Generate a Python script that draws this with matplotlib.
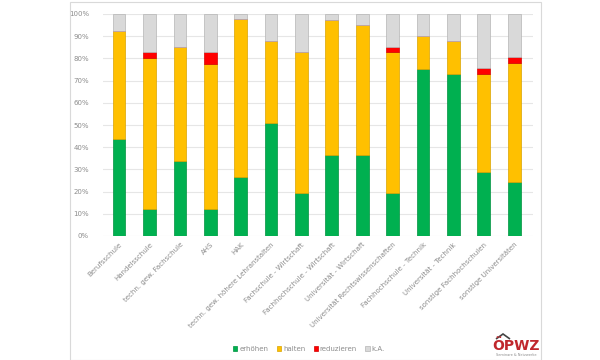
import matplotlib
matplotlib.use("Agg")
import matplotlib.pyplot as plt
from matplotlib.patches import Rectangle, Polygon
import numpy as np

categories = ["Berufsschule", "Handelsschule", "techn. gew. Fachschule", "AHS", "HAK",
              "techn. gew. höhere Lehranstalten", "Fachschule - Wirtschaft",
              "Fachhochschule - Wirtschaft", "Universität - Wirtschaft",
              "Universität Rechtswissenschaften", "Fachhochschule - Technik",
              "Universität - Technik", "sonstige Fachhochschulen", "sonstige Universitäten"]
erhoehen =   [43.6, 12.0, 33.8, 12.0, 26.6, 51.1, 19.2, 36.4, 36.4, 19.2, 75.2, 72.9, 29.0, 24.1]
halten =     [48.9, 68.2, 51.5, 65.7, 71.1, 36.6, 63.5, 60.9, 58.8, 63.5, 15.0, 14.8, 43.9, 53.8]
reduzieren = [0.0, 2.5, 0.0, 5.0, 0.0, 0.0, 0.0, 0.0, 0.0, 2.6, 0.0, 0.0, 2.7, 2.6]
ka = [100 - a - b - c for a, b, c in zip(erhoehen, halten, reduzieren)]

series = [("erhöhen", erhoehen, "#00B050", "#00913F"),
          ("halten", halten, "#FFC000", "#D9A300"),
          ("reduzieren", reduzieren, "#FF0000", "#D00000"),
          ("k.A.", ka, "#D9D9D9", "#B5B5B5")]

plt.rcParams["font.family"] = ["DejaVu Sans"]
fig = plt.figure(figsize=(6, 3.6), dpi=100)
ax = fig.add_axes([103/600, 1-236/360, 430/600, 222/360])

x = np.arange(len(categories))
bottom = np.zeros(len(categories))
handles = []
for name, vals, col, edge in series:
    h = ax.bar(x, vals, bottom=bottom, width=0.42, color=col, edgecolor=edge,
               linewidth=0.5, label=name, zorder=3)
    handles.append(h)
    bottom += np.array(vals)

ax.set_xlim(-0.53, 13.62)
ax.set_ylim(0, 100)
ax.set_yticks(np.arange(0, 101, 10))
ax.set_yticklabels([f"{v}%" for v in range(0, 101, 10)])
ax.yaxis.grid(True, color="#e6e6e6", linewidth=0.8, zorder=0)
ax.set_axisbelow(True)
for s in ax.spines.values():
    s.set_visible(False)
ax.tick_params(axis="both", length=0, colors="#8c8c8c", labelsize=5)
ax.tick_params(axis="y", pad=10)
ax.set_xticks(x)
ax.set_xticklabels(categories, rotation=45, ha="right", rotation_mode="anchor")
ax.tick_params(axis="x", pad=4)

leg = fig.legend(handles=handles, labels=[s[0] for s in series], loc="center",
                 bbox_to_anchor=(0.515, 1-349/360), ncol=4, frameon=False,
                 fontsize=5, handlelength=0.6, handleheight=0.6, handletextpad=0.3,
                 columnspacing=1.2, labelcolor="#8c8c8c")

# outer frame
fig.patches.append(Rectangle((70/600, 0), 471/600, 358/360, transform=fig.transFigure,
                             fill=False, edgecolor="#d9d9d9", linewidth=0.8))

# logo
fig.text(516/600, 1-346/360, "ÖPWZ", color="#C0272D", fontsize=10, fontweight="bold",
         ha="center", va="center")
fig.text(516/600, 1-355/360, "Seminare & Netzwerke", color="#8c8c8c", fontsize=2.5,
         ha="center", va="center")
fig.patches.append(Polygon([[496/600, 1-339/360], [503/600, 1-334/360], [510/600, 1-339/360]],
                           closed=False, fill=False, edgecolor="#444444", linewidth=1.2,
                           transform=fig.transFigure))

fig.savefig("out.png", dpi=100)
